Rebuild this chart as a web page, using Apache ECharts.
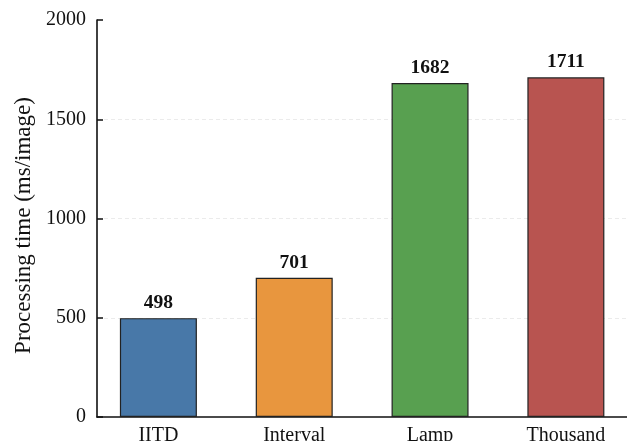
<!DOCTYPE html>
<html><head><meta charset="utf-8">
<script src="https://cdn.jsdelivr.net/npm/echarts@6/dist/echarts.min.js"></script>
<style>html,body{margin:0;padding:0;background:#fff}#c{width:627px;height:441px}</style>
</head><body><div id="c"></div>
<script>
const categories = ['IITD', 'Interval', 'Lamp', 'Thousand'];
const values = [498, 701, 1682, 1711];
const colors = ['#4878a8', '#e8963e', '#58a050', '#b85450'];
const yTicks = [0, 500, 1000, 1500, 2000];
const yTitle = 'Processing time (ms/image)';

const font = '"Liberation Serif", "Times New Roman", serif';
const chart = echarts.init(document.getElementById('c'), null, {renderer: 'canvas'});
chart.setOption({
  animation: false,
  backgroundColor: '#fff',
  grid: {left: 97, right: 0, top: 20, bottom: 24, containLabel: false, outerBoundsMode: 'none'},
  xAxis: {
    type: 'value', min: -0.452, max: 3.45,
    axisLine: {show: true, onZero: false, lineStyle: {color: '#111', width: 1.6}},
    axisTick: {show: false},
    splitLine: {show: false},
    axisLabel: {
      customValues: categories.map((_, i) => i),
      formatter: v => categories[Math.round(v)] || '',
      fontFamily: font, fontSize: 20, color: '#111', margin: 9
    }
  },
  yAxis: {
    type: 'value', min: yTicks[0], max: yTicks[yTicks.length - 1], interval: 500,
    axisLine: {show: true, onZero: false, lineStyle: {color: '#111', width: 1.6}},
    axisTick: {show: true, inside: true, length: 6, lineStyle: {color: '#111', width: 1.5}},
    splitLine: {show: true, showMaxLine: false, showMinLine: false, lineStyle: {color: '#e6e6e6', type: [4, 3], width: 0.8}},
    axisLabel: {fontFamily: font, fontSize: 20, color: '#111', margin: 11, formatter: v => String(v)},
    name: yTitle, nameLocation: 'middle', nameGap: 62, nameRotate: 90,
    nameTextStyle: {fontFamily: font, fontSize: 23, color: '#111', padding: [0, 14, 0, 0]}
  },
  series: [{
    type: 'bar',
    barWidth: 77,
    data: values.map((v, i) => ({value: [i, v], itemStyle: {color: colors[i]}})),
    itemStyle: {borderColor: '#222', borderWidth: 1.2},
    label: {
      show: true, position: 'top', distance: 5,
      formatter: p => p.value[1],
      fontFamily: font, fontSize: 19.5, fontWeight: 'bold', color: '#111'
    }
  }]
});
</script></body></html>
